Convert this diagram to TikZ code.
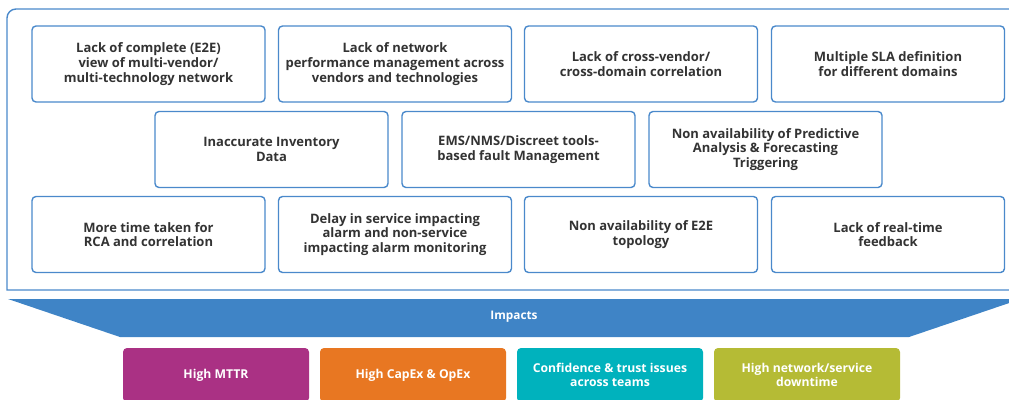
\documentclass[tikz,border=0pt]{standalone}
\usepackage{fontspec}
\setmainfont{Open Sans}
\definecolor{frameblue}{HTML}{4A89CB}
\definecolor{banner}{HTML}{3F84C6}
\definecolor{txt}{HTML}{333333}
\definecolor{cmag}{HTML}{AA3184}
\definecolor{corange}{HTML}{E87722}
\definecolor{cteal}{HTML}{00B2BD}
\definecolor{colive}{HTML}{B5BB35}
\tikzset{
  issue/.style={draw=frameblue, line width=1.4pt, rounded corners=4pt, fill=white,
    minimum width=233pt, minimum height=76pt, align=center, text=txt,
    font=\fontsize{13}{14.6}\selectfont\bfseries, inner sep=2pt},
  impact/.style={rounded corners=4pt, minimum width=186pt, minimum height=54pt,
    align=center, text=white, font=\fontsize{12.2}{14}\selectfont\bfseries, inner sep=2pt},
}
\begin{document}
\begin{tikzpicture}[x=1pt,y=-1pt]
\useasboundingbox (0,0) rectangle (1009,399);
% outer frame
\draw[frameblue, line width=1.4pt] (1015,290) -- (7,290) [rounded corners=9pt] -- (7,9) -- (1015,9);
% row 1
\node[issue] (a1) at (148.5,64) {Lack of complete (E2E)\\view of multi-vendor/\\multi-technology network};
\node[issue] (a2) at (395,64) {Lack of network\\performance management across\\vendors and technologies};
\node[issue] (a3) at (641,64) {Lack of cross-vendor/\\cross-domain correlation};
\node[issue] (a4) at (888,64) {Multiple SLA definition\\for different domains};
% row 2
\node[issue] (b1) at (271.5,149.5) {Inaccurate Inventory\\Data};
\node[issue] (b2) at (518.5,149.5) {EMS/NMS/Discreet tools-\\based fault Management};
\node[issue] (b3) at (765.5,149.5) {Non availability of Predictive\\Analysis \& Forecasting\\Triggering};
% row 3
\node[issue] (c1) at (148.5,234.5) {More time taken for\\RCA and correlation};
\node[issue] (c2) at (395,234.5) {Delay in service impacting\\alarm and non-service\\impacting alarm monitoring};
\node[issue] (c3) at (641,234.5) {Non availability of E2E\\topology};
\node[issue] (c4) at (888,234.5) {Lack of real-time\\feedback};
% banner
\fill[banner] (8,299) -- (1021,299) -- (909,337) -- (120,337) -- cycle;
\node[text=white, font=\fontsize{11.8}{14}\selectfont\bfseries] (imp) at (514,316.5) {Impacts};
% impacts
\node[impact, fill=cmag] (d1) at (216,375) {High MTTR};
\node[impact, fill=corange] (d2) at (413,375) {High CapEx \& OpEx};
\node[impact, fill=cteal] (d3) at (610,375) {Confidence \& trust issues\\across teams};
\node[impact, fill=colive] (d4) at (807,375) {High network/service\\downtime};
\end{tikzpicture}
\end{document}
